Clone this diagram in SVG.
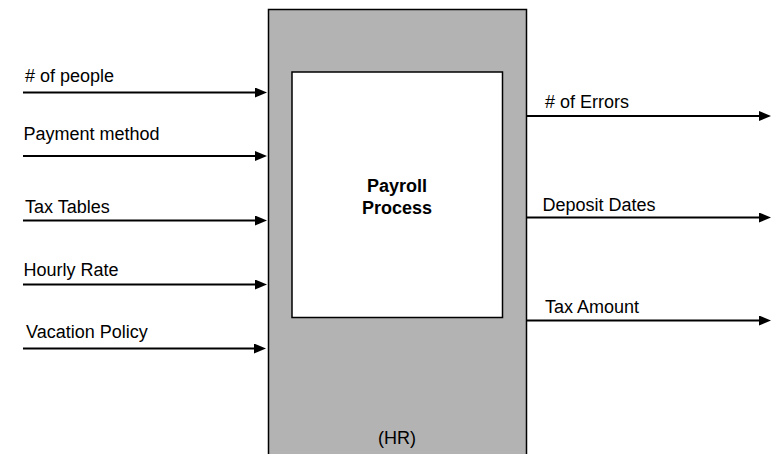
<svg xmlns="http://www.w3.org/2000/svg" width="777" height="454" viewBox="0 0 777 454">
  <style>
    text { font-family: "Liberation Sans", Arial, sans-serif; font-size: 18px; fill: #000; }
    .title { font-weight: bold; text-anchor: middle; }
    .center { text-anchor: middle; }
    .flow { stroke: #000; stroke-width: 2; fill: none; marker-end: url(#head); }
  </style>
  <defs>
    <marker id="head" markerUnits="userSpaceOnUse" markerWidth="12" markerHeight="10" refX="2" refY="5" orient="auto">
      <path d="M0,0 L12,5 L0,10 z" fill="#000"/>
    </marker>
  </defs>

  <rect width="777" height="454" fill="#fff"/>

  <!-- Process block: owner frame with inner activity box -->
  <g id="payroll-process">
    <rect x="268.5" y="9.5" width="258" height="460" fill="#b3b3b3" stroke="#000" stroke-width="1.5"/>
    <rect x="292" y="72" width="210.5" height="245.5" fill="#fff" stroke="#000" stroke-width="1.5"/>
    <text class="title" x="397" y="191.5">Payroll</text>
    <text class="title" x="397" y="213.5">Process</text>
    <text class="center" x="397" y="444">(HR)</text>
  </g>

  <!-- Inputs and outputs -->
  <g id="connectors">
    <path class="flow" d="M23,92.5 H257"/>
    <path class="flow" d="M23,156 H257"/>
    <path class="flow" d="M23,220.5 H257"/>
    <path class="flow" d="M23,284.5 H257"/>
    <path class="flow" d="M23,348.5 H256"/>
    <path class="flow" d="M527,116 H761"/>
    <path class="flow" d="M527,217.5 H761"/>
    <path class="flow" d="M527,320.5 H761"/>
  </g>

  <g id="input-labels">
    <text x="25" y="81.5">#  of people</text>
    <text x="23.5" y="139.5">Payment method</text>
    <text x="25" y="212.5">Tax Tables</text>
    <text x="23.5" y="276">Hourly Rate</text>
    <text x="26" y="337.5">Vacation Policy</text>
  </g>

  <g id="output-labels">
    <text x="545" y="108">#  of Errors</text>
    <text x="542.5" y="210.5">Deposit Dates</text>
    <text x="545" y="312.5">Tax Amount</text>
  </g>
</svg>
